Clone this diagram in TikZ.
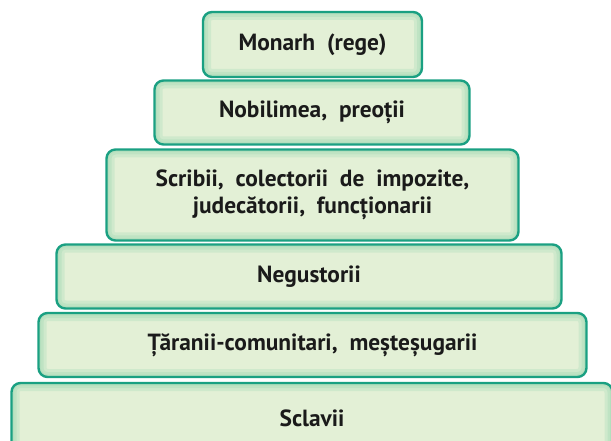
\documentclass[tikz,border=0pt]{standalone}
\usepackage{fontspec}
\setmainfont{PT Sans}
\definecolor{tierline}{HTML}{1AA082}
\definecolor{tierfill}{HTML}{E3F0D6}
\definecolor{tierglow}{HTML}{A3DAB5}
\definecolor{tiertext}{HTML}{1A1A1A}
\tikzset{
  tier/.style={draw=tierline, line width=2.4pt, rounded corners=9pt, fill=tierfill,
    inner sep=0pt, align=center, font=\bfseries\fontsize{23.4}{27}\selectfont, text=tiertext,
    path picture={
      \foreach \w/\o in {16/0.3,10/0.35,5/0.4}
        \draw[tierglow, opacity=\o, line width=\w pt, rounded corners=9pt]
          (path picture bounding box.south west) rectangle (path picture bounding box.north east);
    }},
}
\begin{document}
\begin{tikzpicture}[x=1pt, y=-1pt]
  \useasboundingbox (0,0) rectangle (611,441);
  \begin{scope}
    \clip (0,0) rectangle (611,441);

    \node[tier, minimum width=601pt, minimum height=70pt] (sclavi) at (312,418) {Sclavii};
    \node[tier, minimum width=548pt, minimum height=64pt] (tarani) at (312.5,345) {Țăranii-comunitari,\ \ meșteșugarii};
    \node[tier, minimum width=505pt, minimum height=64pt] (negust) at (309,276.5) {Negustorii};
    \node[tier, minimum width=412pt, minimum height=91pt] (scribi) at (312.5,195) {Scribii,\ \ colectorii\ \ de\ \ impozite,\\ judecătorii,\ \ funcționarii};
    \node[tier, minimum width=315pt, minimum height=64pt] (nobili) at (312,112.5) {Nobilimea,\ \ preoții};
    \node[tier, minimum width=219pt, minimum height=65pt] (monarh) at (312.5,44.5) {Monarh\ \ (rege)};
  \end{scope}
\end{tikzpicture}
\end{document}
